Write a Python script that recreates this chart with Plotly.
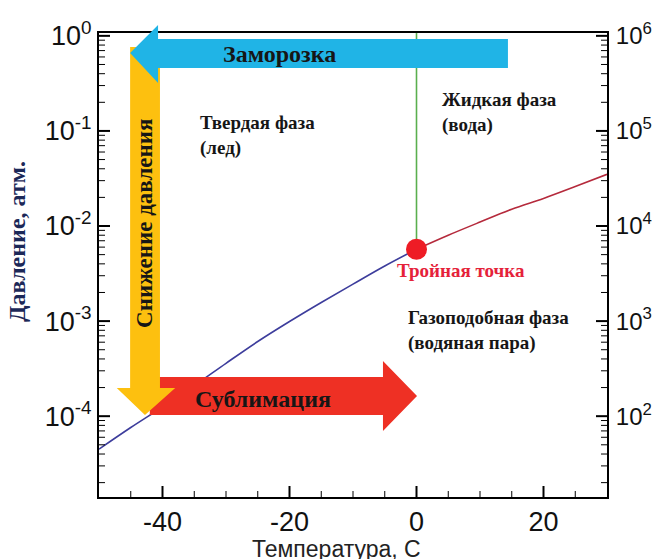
import plotly.graph_objects as go

# ---------------- data ----------------
t_ice = [-50, -45, -40, -35, -30, -25, -20, -15, -10, -5, 0]
p_ice = [4.5e-5, 7.6e-5, 1.25e-4, 2.1e-4, 3.6e-4, 6.1e-4, 9.9e-4, 1.57e-3, 2.45e-3, 3.8e-3, 5.7e-3]

t_water = [0, 5, 10, 15, 20, 25, 30]
p_water = [5.7e-3, 8.0e-3, 1.1e-2, 1.5e-2, 1.95e-2, 2.6e-2, 3.5e-2]

t_melt = [0, 0]
p_melt = [5.7e-3, 1.07]

triple_t = [0]
triple_p = [5.7e-3]

x_ticks = [-40, -20, 0, 20]
x_labels = ["-40", "-20", "0", "20"]
x_minor_ticks = [-45, -35, -30, -25, -15, -10, -5, 5, 10, 15, 25]
y_ticks_atm = [1, 0.1, 0.01, 0.001, 0.0001]
y_labels_atm = ["10<sup>0</sup>", "10<sup>-1</sup>", "10<sup>-2</sup>", "10<sup>-3</sup>", "10<sup>-4</sup>"]
y_ticks_pa = [1e6, 1e5, 1e4, 1e3, 1e2]
y_labels_pa = ["10<sup>6</sup>", "10<sup>5</sup>", "10<sup>4</sup>", "10<sup>3</sup>", "10<sup>2</sup>"]

X_RANGE = [-50, 30]
Y_RANGE = [-4.85, 0.03]          # log10 atm
Y2_RANGE = [Y_RANGE[0] + 6, Y_RANGE[1] + 6]

# minor y ticks: 2..9 in every decade inside the axis range
y_minor_ticks = [k * 10.0 ** n for n in range(-5, 1) for k in range(2, 10)
                 if 10 ** Y_RANGE[0] < k * 10.0 ** n < 10 ** Y_RANGE[1]]

SERIF = "Liberation Serif"
SANS = "Liberation Sans"

PLOT_W, PLOT_H = 508, 464        # plot area size in pixels (for tick lengths)


def pap(L):
    """log10(pressure) -> paper fraction of the plot height"""
    return (L - Y_RANGE[0]) / (Y_RANGE[1] - Y_RANGE[0])


def arrow_path(pts):
    return "M " + " L ".join(f"{t:.3f},{pap(L):.5f}" for t, L in pts) + " Z"


fig = go.Figure()

fig.add_trace(go.Scatter(x=t_ice, y=p_ice, mode="lines", line=dict(color="#3d3d9c", width=1.6),
                         line_shape="spline", showlegend=False, hoverinfo="skip"))
fig.add_trace(go.Scatter(x=t_water, y=p_water, mode="lines", line=dict(color="#b52a3c", width=1.6),
                         line_shape="spline", showlegend=False, hoverinfo="skip"))
fig.add_trace(go.Scatter(x=t_melt, y=p_melt, mode="lines", line=dict(color="#5aaf4e", width=1.6),
                         showlegend=False, hoverinfo="skip"))
fig.add_trace(go.Scatter(x=triple_t, y=triple_p, mode="markers",
                         marker=dict(size=21, color="#ee1c25", line=dict(width=0)),
                         showlegend=False, hoverinfo="skip"))
# empty trace so that the right (Pa) scale is drawn
fig.add_trace(go.Scatter(x=[None], y=[None], yaxis="y2", showlegend=False, hoverinfo="skip"))

shapes = []

# ---------------- tick marks (inside the frame) ----------------
def y_tick(v, length_px, width):
    for side in (0, 1):
        x0 = side
        x1 = side + (length_px / PLOT_W) * (1 if side == 0 else -1)
        shapes.append(dict(type="line", xref="paper", yref="y", x0=x0, x1=x1, y0=v, y1=v,
                           line=dict(color="black", width=width), layer="above"))


def x_tick(v, length_px, width):
    shapes.append(dict(type="line", xref="x", yref="paper", x0=v, x1=v, y0=0, y1=length_px / PLOT_H,
                       line=dict(color="black", width=width), layer="above"))


for v in y_ticks_atm:
    y_tick(v, 11, 2)
for v in y_minor_ticks:
    y_tick(v, 6, 1)
for v in x_ticks:
    x_tick(v, 11, 2)
for v in x_minor_ticks:
    x_tick(v, 6, 1)

# ---------------- arrows ----------------
red_arrow = [(-42.0, -3.588), (-5.28, -3.588), (-5.28, -3.42), (0.08, -3.788),
             (-5.28, -4.156), (-5.28, -3.988), (-42.0, -3.988)]
yellow_arrow = [(-45.1, -0.117), (-40.4, -0.117), (-40.4, -3.704), (-38.0, -3.704),
                (-42.76, -3.988), (-47.2, -3.704), (-45.1, -3.704)]
cyan_arrow = [(-45.1, -0.18), (-40.7, 0.114), (-40.7, -0.033), (14.4, -0.033),
              (14.4, -0.338), (-40.7, -0.338), (-40.7, -0.496)]

for pts, col in [(red_arrow, "#ee3024"), (yellow_arrow, "#fdc00f"), (cyan_arrow, "#20b4e6")]:
    shapes.append(dict(type="path", xref="x", yref="paper", path=arrow_path(pts),
                       fillcolor=col, line=dict(width=0), layer="above"))

# ---------------- text ----------------
ann = []
txt_col = "#161616"
ann.append(dict(x=-21.65, y=-0.191, xref="x", yref="y", text="<b>Заморозка</b>", showarrow=False,
                font=dict(family=SERIF, size=24, color=txt_col)))
ann.append(dict(x=-24.2, y=-3.819, xref="x", yref="y", text="<b>Сублимация</b>", showarrow=False,
                font=dict(family=SERIF, size=24, color=txt_col)))
ann.append(dict(x=-42.76, y=-1.968, xref="x", yref="y", text="<b>Снижение давления</b>", showarrow=False,
                textangle=-90, font=dict(family=SERIF, size=23, color=txt_col)))
ann.append(dict(x=-34.4, y=-1.053, xref="x", yref="y", text="<b>Твердая фаза<br>(лед)</b>",
                showarrow=False, xanchor="left", align="left",
                font=dict(family=SERIF, size=19, color=txt_col)))
ann.append(dict(x=3.7, y=-0.801, xref="x", yref="y", text="<b>Жидкая фаза<br>(вода)</b>",
                showarrow=False, xanchor="left", align="left",
                font=dict(family=SERIF, size=19, color=txt_col)))
ann.append(dict(x=-1.65, y=-3.104, xref="x", yref="y", text="<b>Газоподобная фаза<br>(водяная пара)</b>",
                showarrow=False, xanchor="left", align="left",
                font=dict(family=SERIF, size=19, color=txt_col)))
ann.append(dict(x=7.0, y=-2.473, xref="x", yref="y", text="<b>Тройная точка</b>", showarrow=False,
                font=dict(family=SERIF, size=19, color="#e5223a")))
# axis titles
ann.append(dict(x=0.467, y=-0.112, xref="paper", yref="paper", text="Температура, С", showarrow=False,
                xanchor="center", yanchor="middle",
                font=dict(family=SANS, size=23, color="#222222")))
ann.append(dict(x=-0.161, y=0.55, xref="paper", yref="paper", text="<b>Давление, атм.</b>", showarrow=False,
                xanchor="center", yanchor="middle",
                textangle=-90, font=dict(family=SERIF, size=24, color="#1c2858")))

base = dict(showgrid=False, zeroline=False, showline=True, linewidth=2, linecolor="black",
            ticks="", automargin=False)

fig.update_layout(
    width=652, height=551,
    margin=dict(l=91, r=53, t=25, b=62, autoexpand=False),
    paper_bgcolor="white", plot_bgcolor="white",
    showlegend=False,
    shapes=shapes,
    annotations=ann,
    xaxis=dict(range=X_RANGE, tickmode="array", tickvals=x_ticks, ticktext=x_labels, mirror=True,
               tickfont=dict(family=SANS, size=27, color="#111111"), **base),
    yaxis=dict(type="log", range=Y_RANGE, tickmode="array", tickvals=y_ticks_atm, ticktext=y_labels_atm,
               tickfont=dict(family=SANS, size=27, color="#111111"), **base),
    yaxis2=dict(type="log", range=Y2_RANGE, overlaying="y", side="right", anchor="x",
                tickmode="array", tickvals=y_ticks_pa, ticktext=y_labels_pa, ticklabelstandoff=2,
                tickfont=dict(family=SANS, size=24, color="#111111"), **base),
)

fig.write_html("out.html")
